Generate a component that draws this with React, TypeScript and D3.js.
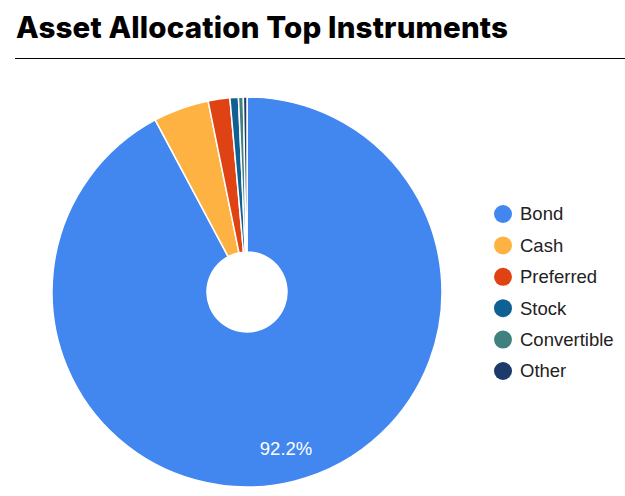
import React from "react";
import * as d3 from "d3";

const categories = ["Bond", "Cash", "Preferred", "Stock", "Convertible", "Other"];
const values = [92.2, 4.6, 1.8, 0.7, 0.4, 0.3];
const colors = ["#4287f0", "#fdb241", "#df4213", "#0f6193", "#3e817f", "#1e3a6b"];
const title = "Asset Allocation Top Instruments";

export default function App() {
  const W = 625, H = 496;
  const cx = 247, cy = 292, R = 195, r0 = 40;
  const data = categories.map((c, i) => ({ c, v: values[i], color: colors[i] }));
  const pie = d3.pie<any>().value((d) => d.v).sort(null);
  const arcs = pie(data);
  const arc = d3.arc<any>().innerRadius(r0).outerRadius(R);
  const total = d3.sum(values);
  const legendY = d3.scalePoint<string>().domain(categories).range([214, 371]);
  return (
    <svg width={W} height={H} style={{ position: "absolute", left: 0, top: 0 }}>
      <rect width={W} height={H} fill="#fff" />
      <text x={16} y={38} fontFamily="Inter" fontWeight={800} fontSize={29.5} textLength={492} lengthAdjust="spacing" fill="#000">{title}</text>
      <line x1={15} x2={625} y1={58.5} y2={58.5} stroke="#000" strokeWidth={1} />
      <g transform={`translate(${cx},${cy})`}>
        {arcs.map((a, i) => (
          <path key={i} d={arc(a) as string} fill={a.data.color} stroke="#fff" strokeWidth={1.5} />
        ))}
        {arcs.map((a, i) => {
          const pct = a.data.v / total;
          if (pct < 0.1) return null;
          const mid = (a.startAngle + a.endAngle) / 2;
          const rr = 161;
          return (
            <text key={"l" + i} x={rr * Math.sin(mid)} y={-rr * Math.cos(mid)} dy="0.35em" textAnchor="middle"
              fontFamily="Arial, Liberation Sans" fontSize={18.5} fill="#fff">
              {(pct * 100).toFixed(1)}%
            </text>
          );
        })}
      </g>
      {data.map((d) => (
        <g key={d.c} transform={`translate(0,${legendY(d.c)})`}>
          <circle cx={503} cy={0} r={9} fill={d.color} />
          <text x={520} y={0} dy="0.35em" fontFamily="Arial, Liberation Sans" fontSize={18.5} fill="#222">{d.c}</text>
        </g>
      ))}
    </svg>
  );
}
